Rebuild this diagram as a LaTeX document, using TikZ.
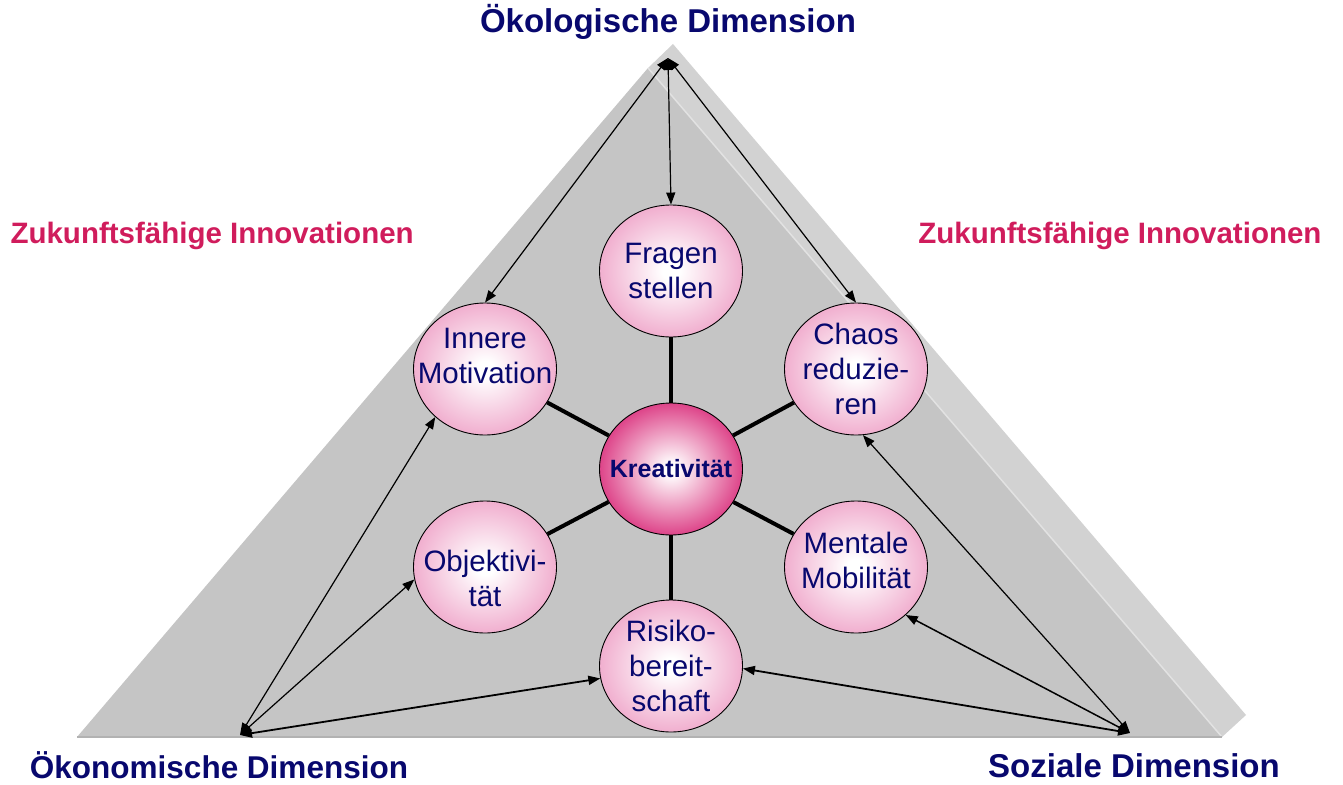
\documentclass[tikz,border=0pt]{standalone}
\usepackage{fontspec}
\setmainfont{Liberation Sans}
\usepackage{tikz}
\usetikzlibrary{positioning, arrows.meta}
\usetikzlibrary{shapes,shapes.geometric}
\definecolor{navy}{RGB}{8,8,110}
\definecolor{crimson}{RGB}{208,28,92}
\definecolor{frontgray}{RGB}{197,197,197}
\definecolor{backgray}{RGB}{210,210,210}
\definecolor{edgelight}{RGB}{226,226,226}
\definecolor{basegray}{RGB}{178,178,178}
\definecolor{bubblepink}{RGB}{238,160,198}
\definecolor{kreapink}{RGB}{220,60,132}
\pgfdeclareradialshading{bubbleshade}{\pgfpoint{0bp}{0bp}}{color(0bp)=(white);color(3bp)=(white);color(29bp)=(bubblepink);color(50bp)=(bubblepink)}
\pgfdeclareradialshading{kreashade}{\pgfpoint{0bp}{0bp}}{color(0bp)=(white);color(2bp)=(white);color(26bp)=(kreapink);color(50bp)=(kreapink)}

\begin{document}
\begin{tikzpicture}[x=1pt, y=-1pt,
		bubble/.style={ellipse, draw, line width=0.9pt, shading=bubbleshade, minimum width=143pt, minimum height=132pt, inner xsep=-30pt, inner ysep=-10pt, align=center, text=navy, font=\fontsize{29.5}{35}\selectfont},
		kern/.style={bubble, shading=kreashade, font=\bfseries\fontsize{25}{30}\selectfont},
		spoke/.style={-, line width=4pt},
		link/.style={{Triangle[length=12pt,width=9pt]}-{Triangle[length=12pt,width=9pt]}, line width=1.2pt},
		dimension/.style={anchor=base, text=navy, font=\bfseries\fontsize{33}{38}\selectfont},
		zukunft/.style={text=crimson, font=\bfseries\fontsize{29.5}{35}\selectfont}]
			\useasboundingbox (0,0) rectangle (1343,784);
			\fill[backgray] (673,44) -- (1246,715) -- (1222,737) -- (648,68) -- cycle;
			\fill[frontgray] (648,68) -- (1222,737) -- (77,737) -- cycle;
			\draw[edgelight, line width=1.5pt] (648,68) -- (1222,737);
			\draw[basegray, line width=2pt] (77,737) -- (1222,737);
			\coordinate (oe) at (668,58);
			\coordinate (ok) at (240,735);
			\coordinate (so) at (1130,733);
			\node[kern] (kr) at (671,469) {Kreativität};
			\node[bubble] (fr) at (671,271) {Fragen\\stellen};
			\node[bubble] (mo) at (485,369) {Innere\\Motivation\\[-9pt]\mbox{}};
			\node[bubble] (ch) at (856,369) {Chaos\\reduzie-\\ren};
			\node[bubble] (ob) at (485,567) {\mbox{}\\[10pt]Objektivi-\\tät};
			\node[bubble] (me) at (856,567) {Mentale\\Mobilität\\[-21pt]\mbox{}};
			\node[bubble] (ri) at (671,666) {Risiko-\\bereit-\\schaft};
			\draw (kr) edge[spoke] (fr) ;
			\draw (kr) edge[spoke] (mo) ;
			\draw (kr) edge[spoke] (ch) ;
			\draw (kr) edge[spoke] (ob) ;
			\draw (kr) edge[spoke] (me) ;
			\draw (kr) edge[spoke] (ri) ;
			\draw (oe) edge[link] (mo.north) ;
			\draw (oe) edge[link] (fr.north) ;
			\draw (oe) edge[link] (ch.north) ;
			\draw (ok) edge[link] (mo.224) ;
			\draw (ok) edge[link] (ob.190) ;
			\draw (ok) edge[link, line width=1.8pt] (ri.190) ;
			\draw (so) edge[link] (ch.276) ;
			\draw (so) edge[link, line width=1.5pt] (me.316) ;
			\draw (so) edge[link, line width=1.8pt] (ri.358) ;
			\node[dimension] (tOe) at (668,33) {Ökologische Dimension};
			\node[dimension, font=\bfseries\fontsize{31.5}{38}\selectfont] (tOk) at (219,778) {Ökonomische Dimension};
			\node[dimension] (tSo) at (1134,777) {Soziale Dimension};
			\node[zukunft, anchor=base west] (zl) at (7,243) {Zukunftsfähige Innovationen};
			\node[zukunft, anchor=base east] (zr) at (1325,243) {Zukunftsfähige Innovationen};
		\end{tikzpicture}
\end{document}
